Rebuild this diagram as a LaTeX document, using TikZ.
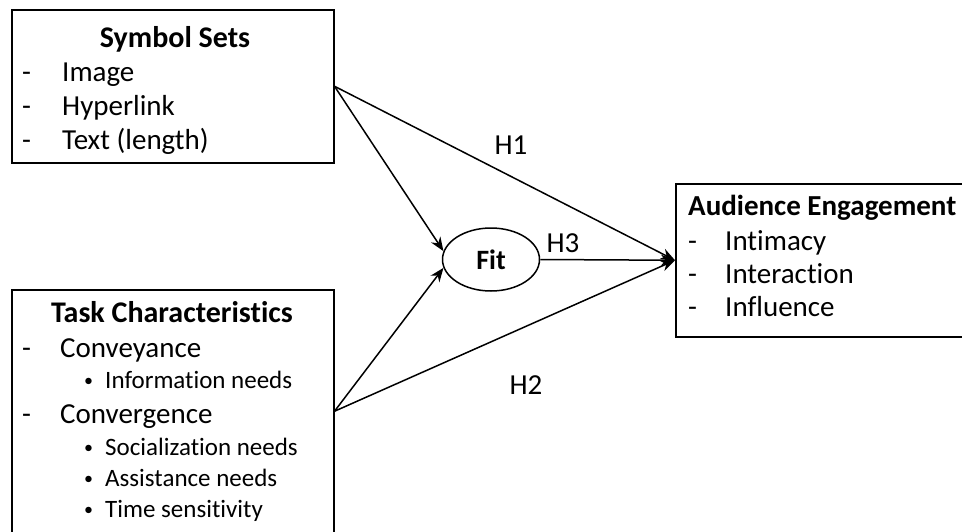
\documentclass[tikz,border=0pt]{standalone}
\usepackage{fontspec}
\setmainfont{Carlito}[Ligatures={NoCommon,NoContextual}]
\usetikzlibrary{arrows.meta,shapes.geometric}

\begin{document}
\begin{tikzpicture}
        [%%%%%%%%%%%%%%%%%%%%%%%%%%%%%%
        x=1pt,y=-1pt,
        box/.style={draw=black,line width=1.5pt,rectangle,anchor=north west,inner sep=0pt},
        head/.style={anchor=base,font=\fontsize{30}{35}\selectfont\bfseries,inner sep=0pt},
        item/.style={anchor=base west,font=\fontsize{29}{35}\selectfont,inner sep=0pt},
        sub/.style={anchor=base west,font=\fontsize{25}{30}\selectfont,inner sep=0pt},
        dot/.style={anchor=base west,font=\fontsize{18}{20}\selectfont,inner sep=0pt},
        link/.style={-{Stealth[length=14pt,width=11pt]},line width=1.5pt},
        hyp/.style={font=\fontsize{29}{35}\selectfont,inner sep=0pt},
        ]%%%%%%%%%%%%%%%%%%%%%%%%%%%%%%
        \useasboundingbox (0,0) rectangle (962,531);

        % the three boxes and the fit ellipse
        \node[box,minimum width=322pt,minimum height=153pt] (sym) at (11,9) {};
        \node[box,minimum width=322pt,minimum height=243pt] (task) at (11,289) {};
        \node[box,minimum width=292pt,minimum height=153pt] (aud) at (675,183) {};
        \node[ellipse,draw,line width=1.5pt,minimum width=97pt,minimum height=63pt,
          inner sep=0pt,font=\fontsize{28}{32}\selectfont\bfseries] (fit) at (491,259.5) {Fit};

        % symbol sets
        \node[head] (symhead) at (175,47) {Symbol Sets};
        \foreach \txt [count=\i] in {Image,Hyperlink,Text (length)}{
          \node[item] (symdash\i) at (22,47+34*\i) {-};
          \node[item] (symitem\i) at (62,47+34*\i) {\txt};
        }

        % task characteristics
        \node[head] (taskhead) at (172,322) {Task Characteristics};
        \node[item] (taskdash1) at (22,357) {-};
        \node[item] (taskitem1) at (60,357) {Conveyance};
        \node[dot] (taskdot0) at (84,386) {\textbullet};
        \node[sub] (tasksub0) at (105,388) {Information needs};
        \node[item] (taskdash2) at (22,423) {-};
        \node[item] (taskitem2) at (60,423) {Convergence};
        \foreach \txt [count=\i] in {Socialization needs,Assistance needs,Time sensitivity}{
          \node[dot] (taskdot\i) at (84,422+31*\i) {\textbullet};
          \node[sub] (tasksub\i) at (105,424+31*\i) {\txt};
        }

        % audience engagement
        \node[item,font=\fontsize{29}{35}\selectfont\bfseries] (audhead) at (688,215) {Audience Engagement};
        \foreach \txt [count=\i] in {Intimacy,Interaction,Influence}{
          \node[item] (auddash\i) at (688,217+33*\i) {-};
          \node[item] (auditem\i) at (725,217+33*\i) {\txt};
        }

        % hypotheses
        \draw[link] (sym.east) -- (fit.170);
        \draw[link] (task.east) -- (fit.190);
        \draw[link] (sym.east) -- (aud.west);
        \draw[link] (task.east) -- (aud.west);
        \draw[link] (fit.east) -- (aud.west);
        \node[hyp] (h1) at (511,145) {H1};
        \node[hyp] (h2) at (526,385) {H2};
        \node[hyp] (h3) at (563,243) {H3};

      \end{tikzpicture}
\end{document}
